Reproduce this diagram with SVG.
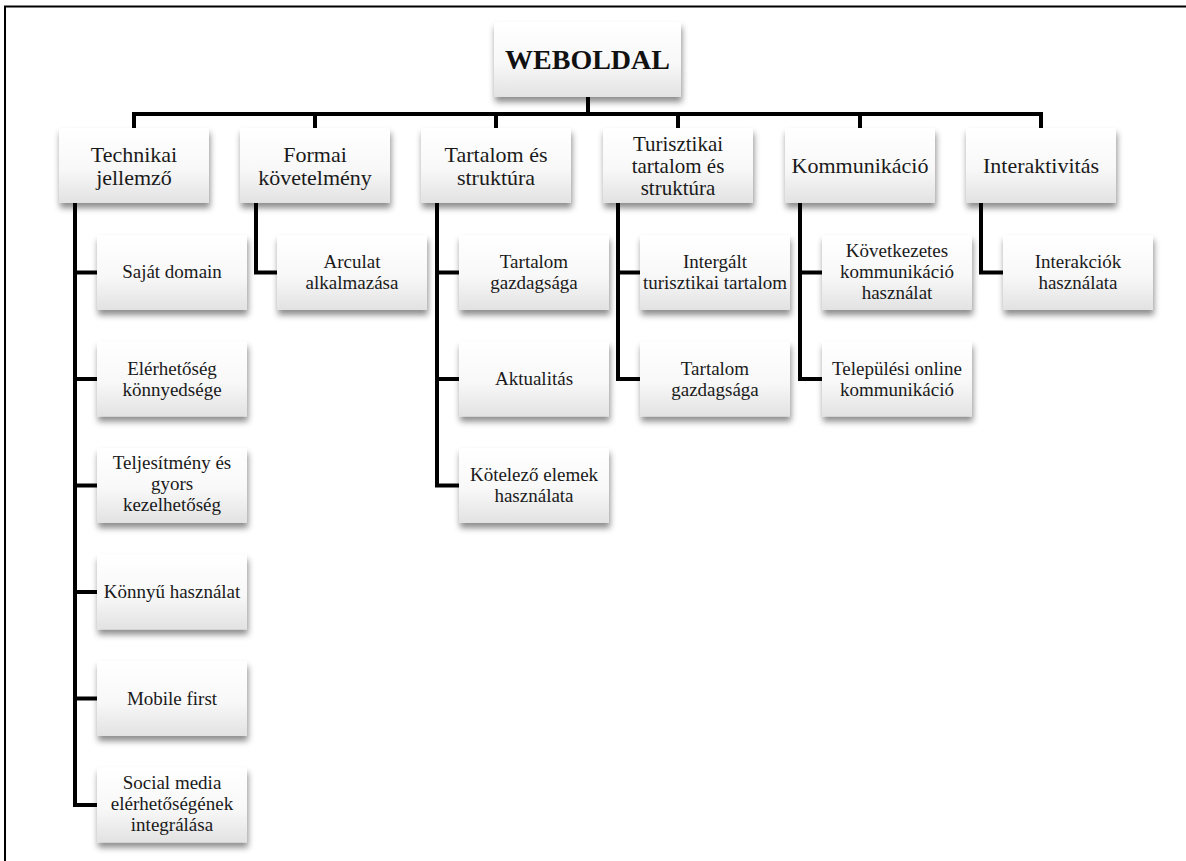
<svg xmlns="http://www.w3.org/2000/svg" width="1186" height="861" viewBox="0 0 1186 861">
<defs>
<linearGradient id="g" x1="0" y1="0" x2="0" y2="1">
<stop offset="0" stop-color="#ffffff"/>
<stop offset="0.55" stop-color="#f8f8f8"/>
<stop offset="1" stop-color="#e2e2e2"/>
</linearGradient>
<filter id="sh" x="-10%" y="-10%" width="125%" height="140%">
<feDropShadow dx="1" dy="5" stdDeviation="3" flood-color="#000" flood-opacity="0.45"/>
</filter>
</defs>
<style>
.box{fill:url(#g);filter:url(#sh);}
text{font-family:'Liberation Serif','Times New Roman','DejaVu Serif',serif;fill:#1a1a1a;text-anchor:middle;}
.t1{font-size:22px;}
.t1s{font-size:21px;}
.t2{font-size:19px;}
.root{font-size:28px;font-weight:bold;fill:#111;}
.ln{fill:none;stroke:#000;stroke-width:4;stroke-linejoin:miter;stroke-linecap:butt;}
.fr{fill:none;stroke:#000;stroke-width:2;}
</style>
<rect width="1186" height="861" fill="#fff"/>
<g id="frame">
<path class="fr" d="M5,861 V6.5 H1186"/>
</g>
<g id="connectors">
<path class="ln" d="M588,97 V114"/>
<path class="ln" d="M134,128 V114 H1041 V128"/>
<path class="ln" d="M315,114 V128 M496,114 V128 M678,114 V128 M860,114 V128"/>
<path class="ln" d="M75,203 V805 H97 M75,272.5 H97 M75,379 H97 M75,485.5 H97 M75,592 H97 M75,698.5 H97"/>
<path class="ln" d="M256,203 V272.5 H277"/>
<path class="ln" d="M437,203 V485.5 H459 M437,272.5 H459 M437,379 H459"/>
<path class="ln" d="M618,203 V379 H640 M618,272.5 H640"/>
<path class="ln" d="M800,203 V379 H822 M800,272.5 H822"/>
<path class="ln" d="M981,203 V272.5 H1003"/>
</g>
<g font-family="Liberation Serif, Times New Roman, serif">
<g id="n-weboldal"><rect class="box" x="494" y="22" width="187" height="75"/><text class="root" x="587.5" y="69">WEBOLDAL</text></g>
<g id="n-technikai"><rect class="box" x="59" y="128" width="150" height="75"/><text class="t1" x="134" y="162">Technikai</text><text class="t1" x="134" y="185">jellemző</text></g>
<g id="n-formai"><rect class="box" x="240" y="128" width="150" height="75"/><text class="t1" x="315" y="162">Formai</text><text class="t1" x="315" y="185">követelmény</text></g>
<g id="n-tartalom"><rect class="box" x="421" y="128" width="150" height="75"/><text class="t1" x="496" y="162">Tartalom és</text><text class="t1" x="496" y="185">struktúra</text></g>
<g id="n-turisztikai"><rect class="box" x="603" y="128" width="150" height="75"/><text class="t1s" x="678" y="151">Turisztikai</text><text class="t1s" x="678" y="173">tartalom és</text><text class="t1s" x="678" y="195">struktúra</text></g>
<g id="n-kommunikacio"><rect class="box" x="785" y="128" width="150" height="75"/><text class="t1" x="860" y="173">Kommunikáció</text></g>
<g id="n-interaktivitas"><rect class="box" x="966" y="128" width="150" height="75"/><text class="t1" x="1041" y="173">Interaktivitás</text></g>

<g id="n-sajat"><rect class="box" x="97" y="235" width="150" height="75"/><text class="t2" x="172" y="278">Saját domain</text></g>
<g id="n-elerhetoseg"><rect class="box" x="97" y="341.5" width="150" height="75"/><text class="t2" x="172" y="374.5">Elérhetőség</text><text class="t2" x="172" y="395.5">könnyedsége</text></g>
<g id="n-teljesitmeny"><rect class="box" x="97" y="448" width="150" height="75"/><text class="t2" x="172" y="469">Teljesítmény és</text><text class="t2" x="172" y="490">gyors</text><text class="t2" x="172" y="511">kezelhetőség</text></g>
<g id="n-konnyu"><rect class="box" x="97" y="554.5" width="150" height="75"/><text class="t2" x="172" y="598">Könnyű használat</text></g>
<g id="n-mobile"><rect class="box" x="97" y="661" width="150" height="75"/><text class="t2" x="172" y="704.5">Mobile first</text></g>
<g id="n-social"><rect class="box" x="97" y="767.5" width="150" height="75"/><text class="t2" x="172" y="788.5">Social media</text><text class="t2" x="172" y="809.5">elérhetőségének</text><text class="t2" x="172" y="830.5">integrálása</text></g>

<g id="n-arculat"><rect class="box" x="277" y="235" width="150" height="75"/><text class="t2" x="352" y="268">Arculat</text><text class="t2" x="352" y="289">alkalmazása</text></g>

<g id="n-tgazd1"><rect class="box" x="459" y="235" width="150" height="75"/><text class="t2" x="534" y="268">Tartalom</text><text class="t2" x="534" y="289">gazdagsága</text></g>
<g id="n-aktualitas"><rect class="box" x="459" y="341.5" width="150" height="75"/><text class="t2" x="534" y="385">Aktualitás</text></g>
<g id="n-kotelezo"><rect class="box" x="459" y="448" width="150" height="75"/><text class="t2" x="534" y="481">Kötelező elemek</text><text class="t2" x="534" y="502">használata</text></g>

<g id="n-intergalt"><rect class="box" x="640" y="235" width="150" height="75"/><text class="t2" x="715" y="268">Intergált</text><text class="t2" x="715" y="289">turisztikai tartalom</text></g>
<g id="n-tgazd2"><rect class="box" x="640" y="341.5" width="150" height="75"/><text class="t2" x="715" y="374.5">Tartalom</text><text class="t2" x="715" y="395.5">gazdagsága</text></g>

<g id="n-kovetkezetes"><rect class="box" x="822" y="235" width="150" height="75"/><text class="t2" x="897" y="257">Következetes</text><text class="t2" x="897" y="278">kommunikáció</text><text class="t2" x="897" y="299">használat</text></g>
<g id="n-telepulesi"><rect class="box" x="822" y="341.5" width="150" height="75"/><text class="t2" x="897" y="374.5">Települési online</text><text class="t2" x="897" y="395.5">kommunikáció</text></g>

<g id="n-interakciok"><rect class="box" x="1003" y="235" width="150" height="75"/><text class="t2" x="1078" y="268">Interakciók</text><text class="t2" x="1078" y="289">használata</text></g>
</g>
</svg>
